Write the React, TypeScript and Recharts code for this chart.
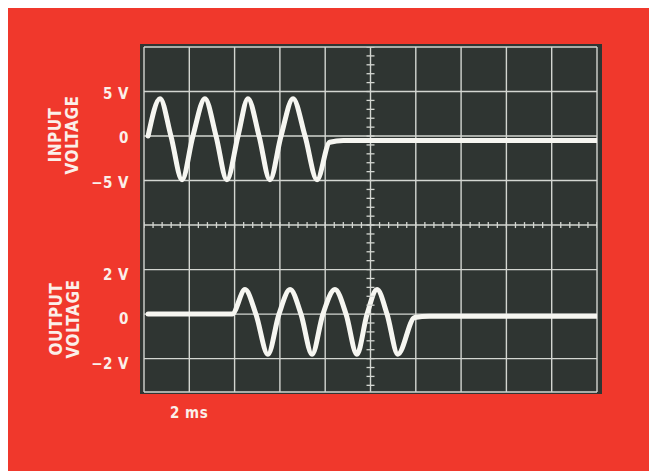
import React from "react";
import { ComposedChart, Line, XAxis, YAxis, CartesianGrid, Scatter } from "recharts";

// time in ms (2 ms per division)
const timeTicks = [0, 2, 4, 6, 8, 10, 12, 14, 16, 18, 20];
// graticule in divisions
const divisionTicks = [-3, -2, -1, 0, 1, 2, 3, 4];
const inputTicks = [5, 0, -5];
const outputTicks = [2, 0, -2];

const inputTime = [0.18, 0.71, 1.19, 1.68, 2.16, 2.69, 3.18, 3.66, 4.15, 4.59, 5.08, 5.56, 6.05, 6.58, 7.11, 7.64, 8.2, 8.8, 20];
const inputVolts = [0, 4.2, 0, -4.9, 0, 4.2, 0, -4.9, 0, 4.2, 0, -4.9, 0, 4.2, 0, -4.9, -0.7, -0.5, -0.5];

const outputTime = [0.18, 3.89, 4.46, 4.94, 5.47, 5.96, 6.45, 6.93, 7.42, 7.9, 8.43, 8.92, 9.4, 9.85, 10.29, 10.73, 11.21, 11.95, 12.6, 20];
const outputVolts = [0, 0, 1.1, 0, -1.8, 0, 1.1, 0, -1.8, 0, 1.1, 0, -1.8, 0, 1.1, 0, -1.8, -0.15, -0.1, -0.1];

const inputData = inputTime.map((t, i) => ({ t, v: inputVolts[i] }));
const outputData = outputTime.map((t, i) => ({ t, v: outputVolts[i] }));

// minor graticule marks on the centre lines (every 0.2 division)
const hMarks = Array.from({ length: 51 }, (_, i) => ({ t: i * 0.4, d: 0 }));
const vMarks = Array.from({ length: 39 }, (_, i) => ({ t: 10, d: -3.6 + i * 0.2 }));

const RED = "#f0382c";
const SCREEN = "#2f3532";
const GRID = "#d3d6d1";
const TRACE = "#f6f6f1";
const FONT = "'Liberation Sans Narrow', 'DejaVu Sans Condensed', Arial, sans-serif";
const LABEL = "#fbefe9";

const HMark = (p: any) => (
  <line x1={p.cx} x2={p.cx} y1={p.cy - 3} y2={p.cy + 3} stroke={GRID} strokeWidth={1.3} />
);
const VMark = (p: any) => (
  <line x1={p.cx - 4} x2={p.cx + 4} y1={p.cy} y2={p.cy} stroke={GRID} strokeWidth={1.3} />
);

const fmt = (v: number) => (v === 0 ? "0" : v < 0 ? `\u2212${Math.abs(v)} V` : `${v} V`);

const makeTick = (dy: number) => (p: any) => (
  <text
    x={121}
    y={p.y + dy}
    textAnchor="end"
    fill={LABEL}
    fontSize={15}
    fontWeight={700}
    fontFamily={FONT}
    letterSpacing={0.5}
  >
    {fmt(p.payload.value)}
  </text>
);

export default function App() {
  return (
    <div style={{ position: "absolute", left: 8, top: 8, width: 641, height: 463, background: RED, overflow: "hidden" }}>
      <div style={{ position: "absolute", left: 132, top: 36, width: 462, height: 350, background: SCREEN }} />
      <div style={{ position: "absolute", left: 0, top: 0 }}>
        <ComposedChart width={641} height={463} margin={{ top: 39, right: 52, bottom: 79, left: 134 }}>
          <XAxis xAxisId="t" type="number" dataKey="t" domain={[0, 20]} ticks={timeTicks} hide allowDataOverflow />
          <YAxis yAxisId="div" type="number" domain={[-3.75, 4]} ticks={divisionTicks} hide allowDataOverflow />
          <YAxis
            yAxisId="in"
            type="number"
            domain={[-28.75, 10]}
            ticks={inputTicks}
            width={1}
            axisLine={false}
            tickLine={false}
            tick={makeTick(7)}
            allowDataOverflow
          />
          <YAxis
            yAxisId="out"
            type="number"
            domain={[-3.5, 12]}
            ticks={outputTicks}
            width={1}
            axisLine={false}
            tickLine={false}
            tick={makeTick(10)}
            allowDataOverflow
          />
          <CartesianGrid xAxisId="t" yAxisId="div" stroke={GRID} strokeWidth={1.4} />
          <Scatter xAxisId="t" yAxisId="div" data={hMarks} dataKey="d" shape={HMark} isAnimationActive={false} />
          <Scatter xAxisId="t" yAxisId="div" data={vMarks} dataKey="d" shape={VMark} isAnimationActive={false} />
          <Line xAxisId="t" yAxisId="in" data={inputData} dataKey="v" type="monotone" stroke={TRACE} strokeWidth={5} dot={false} isAnimationActive={false} strokeLinecap="round" />
          <Line xAxisId="t" yAxisId="out" data={outputData} dataKey="v" type="monotone" stroke={TRACE} strokeWidth={5} dot={false} isAnimationActive={false} strokeLinecap="round" />
        </ComposedChart>
      </div>
      <div style={{ position: "absolute", left: 11, top: 110, width: 90, height: 34, transform: "rotate(-90deg)", textAlign: "center", color: LABEL, fontFamily: FONT, fontWeight: 700, fontSize: 17, lineHeight: "17px", letterSpacing: 0.5 }}>
        INPUT<br />VOLTAGE
      </div>
      <div style={{ position: "absolute", left: 12, top: 294, width: 90, height: 34, transform: "rotate(-90deg)", textAlign: "center", color: LABEL, fontFamily: FONT, fontWeight: 700, fontSize: 17, lineHeight: "17px", letterSpacing: 0.5 }}>
        OUTPUT<br />VOLTAGE
      </div>
      <div style={{ position: "absolute", left: 162, top: 396, color: LABEL, fontFamily: FONT, fontWeight: 700, fontSize: 15, letterSpacing: 0.5 }}>
        2 ms
      </div>
    </div>
  );
}
